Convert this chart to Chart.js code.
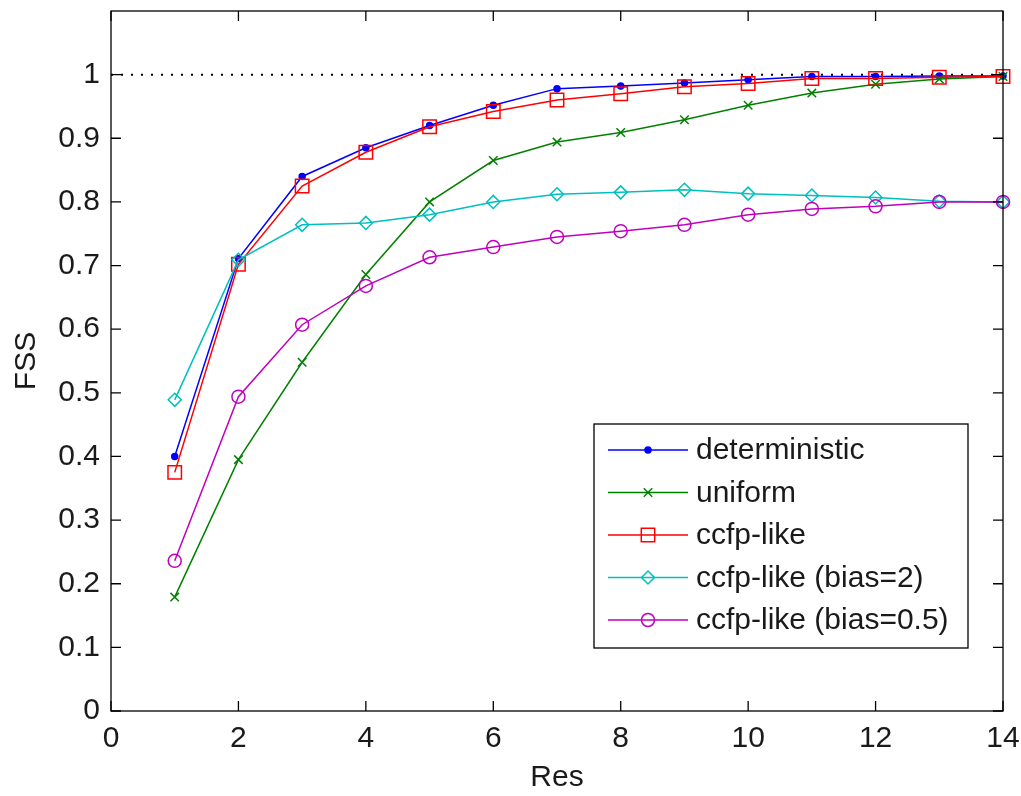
<!DOCTYPE html>
<html>
<head>
<meta charset="utf-8">
<script src="https://cdn.jsdelivr.net/npm/chart.js@4"></script>
<style>
  html, body { margin: 0; padding: 0; background: #fff; }
  #wrap { width: 1021px; height: 796px; position: relative; }
</style>
</head>
<body>
<div id="wrap"><canvas id="fssChart" width="1021" height="796"></canvas></div>
<script>
const resValues = [1, 2, 3, 4, 5, 6, 7, 8, 9, 10, 11, 12, 13, 14];
const deterministic = [0.400, 0.711, 0.840, 0.885, 0.920, 0.952, 0.978, 0.982, 0.987, 0.992, 0.997, 0.997, 0.998, 0.998];
const uniform = [0.179, 0.395, 0.548, 0.686, 0.800, 0.865, 0.894, 0.909, 0.929, 0.952, 0.971, 0.985, 0.993, 0.997];
const ccfpLike = [0.375, 0.702, 0.825, 0.878, 0.918, 0.942, 0.960, 0.970, 0.981, 0.986, 0.994, 0.994, 0.996, 0.997];
const ccfpBias2 = [0.489, 0.709, 0.764, 0.767, 0.780, 0.800, 0.812, 0.815, 0.819, 0.813, 0.810, 0.807, 0.801, 0.800];
const ccfpBias05 = [0.236, 0.494, 0.607, 0.668, 0.713, 0.729, 0.745, 0.754, 0.764, 0.780, 0.789, 0.793, 0.800, 0.800];
const refLine = [1, 1];
const refLineX = [0, 14];
const xTicks = [0, 2, 4, 6, 8, 10, 12, 14];
const yTicks = [0, 0.1, 0.2, 0.3, 0.4, 0.5, 0.6, 0.7, 0.8, 0.9, 1];

const FONT = '"Liberation Sans", Arial, Helvetica, sans-serif';
const pts = (vals, xs = resValues) => vals.map((v, i) => ({ x: xs[i], y: v }));

function series(label, vals, color, style, radius, order, fill) {
  return {
    label, data: pts(vals), borderColor: color, borderWidth: 1.5,
    pointStyle: style, pointRadius: radius, pointBorderColor: color,
    pointBackgroundColor: fill ? color : 'rgba(0,0,0,0)', pointBorderWidth: 1.5,
    tension: 0, fill: false, order, clip: false
  };
}

const datasets = [
  series('deterministic', deterministic, '#0000ff', 'circle', 3, 5, true),
  series('uniform', uniform, '#008000', 'crossRot', 6, 4, false),
  series('ccfp-like', ccfpLike, '#ff0000', 'rect', 9.5, 3, false),
  series('ccfp-like (bias=2)', ccfpBias2, '#00bfbf', 'rectRot', 6.5, 2, false),
  series('ccfp-like (bias=0.5)', ccfpBias05, '#bf00bf', 'circle', 6.5, 1, false),
  { label: '', data: pts(refLine, refLineX), borderColor: '#000', borderWidth: 2,
    borderDash: [2, 8], pointRadius: 0, order: 10, noLegend: true, clip: false }
];

// box + inward ticks, matlab style
const framePlugin = {
  id: 'frame',
  afterDatasetsDraw(chart) {
    const { ctx, chartArea: a, scales: { x, y } } = chart;
    ctx.save();
    ctx.strokeStyle = '#000';
    ctx.lineWidth = 1.3;
    ctx.strokeRect(a.left, a.top, a.right - a.left, a.bottom - a.top);
    const tl = 10;
    ctx.beginPath();
    xTicks.forEach(v => {
      const px = x.getPixelForValue(v);
      ctx.moveTo(px, a.bottom); ctx.lineTo(px, a.bottom - tl);
      ctx.moveTo(px, a.top); ctx.lineTo(px, a.top + tl);
    });
    yTicks.forEach(v => {
      const py = y.getPixelForValue(v);
      ctx.moveTo(a.left, py); ctx.lineTo(a.left + tl, py);
      ctx.moveTo(a.right, py); ctx.lineTo(a.right - tl, py);
    });
    ctx.stroke();
    ctx.restore();
  }
};

const legendPlugin = {
  id: 'boxLegend',
  afterDraw(chart) {
    const { ctx } = chart;
    const box = { left: 594, top: 424, right: 968, bottom: 648 };
    ctx.save();
    ctx.fillStyle = '#fff';
    ctx.fillRect(box.left, box.top, box.right - box.left, box.bottom - box.top);
    ctx.strokeStyle = '#000';
    ctx.lineWidth = 1.3;
    ctx.strokeRect(box.left, box.top, box.right - box.left, box.bottom - box.top);
    ctx.font = '30px ' + FONT;
    ctx.textBaseline = 'middle';
    let row = 0;
    chart.data.datasets.forEach(ds => {
      if (ds.noLegend) return;
      const cy = 450 + row * 42.5;
      ctx.strokeStyle = ds.borderColor;
      ctx.lineWidth = 1.5;
      ctx.beginPath();
      ctx.moveTo(608, cy); ctx.lineTo(688, cy);
      ctx.stroke();
      ctx.fillStyle = ds.pointBackgroundColor;
      ctx.strokeStyle = ds.pointBorderColor;
      Chart.helpers.drawPoint(ctx, { pointStyle: ds.pointStyle, radius: ds.pointRadius, rotation: 0, borderWidth: 1.5 }, 648, cy);
      ctx.fillStyle = '#1a1a1a';
      ctx.fillText(ds.label, 696, cy + 1);
      row++;
    });
    ctx.restore();
  }
};

new Chart(document.getElementById('fssChart'), {
  type: 'line',
  data: { datasets },
  options: {
    responsive: false,
    animation: false,
    events: [],
    layout: { padding: { top: 9, right: 18, left: 0, bottom: 0 } },
    plugins: { legend: { display: false }, tooltip: { enabled: false } },
    scales: {
      x: {
        type: 'linear', min: 0, max: 14,
        afterBuildTicks: s => { s.ticks = xTicks.map(v => ({ value: v })); },
        afterFit: s => { s.height = 85; s.paddingLeft = 0; s.paddingRight = 0; },
        grid: { display: false, drawTicks: false },
        border: { display: false },
        ticks: { font: { family: FONT, size: 30 }, color: '#1a1a1a', padding: 10, maxRotation: 0 },
        title: { display: true, text: 'Res', font: { family: FONT, size: 30 }, color: '#1a1a1a', padding: { top: 0, bottom: 0 } }
      },
      y: {
        type: 'linear', min: 0, max: 1.1,
        afterBuildTicks: s => { s.ticks = yTicks.map(v => ({ value: v })); },
        afterFit: s => { s.width = 111; s.paddingTop = 0; s.paddingBottom = 0; },
        grid: { display: false, drawTicks: false },
        border: { display: false },
        ticks: { font: { family: FONT, size: 30 }, color: '#1a1a1a', padding: 11,
          callback: v => String(Math.round(v * 10) / 10) },
        title: { display: true, text: 'FSS', font: { family: FONT, size: 30 }, color: '#1a1a1a', padding: { top: 9, bottom: 0 } }
      }
    }
  },
  plugins: [framePlugin, legendPlugin]
});
</script>
</body>
</html>
